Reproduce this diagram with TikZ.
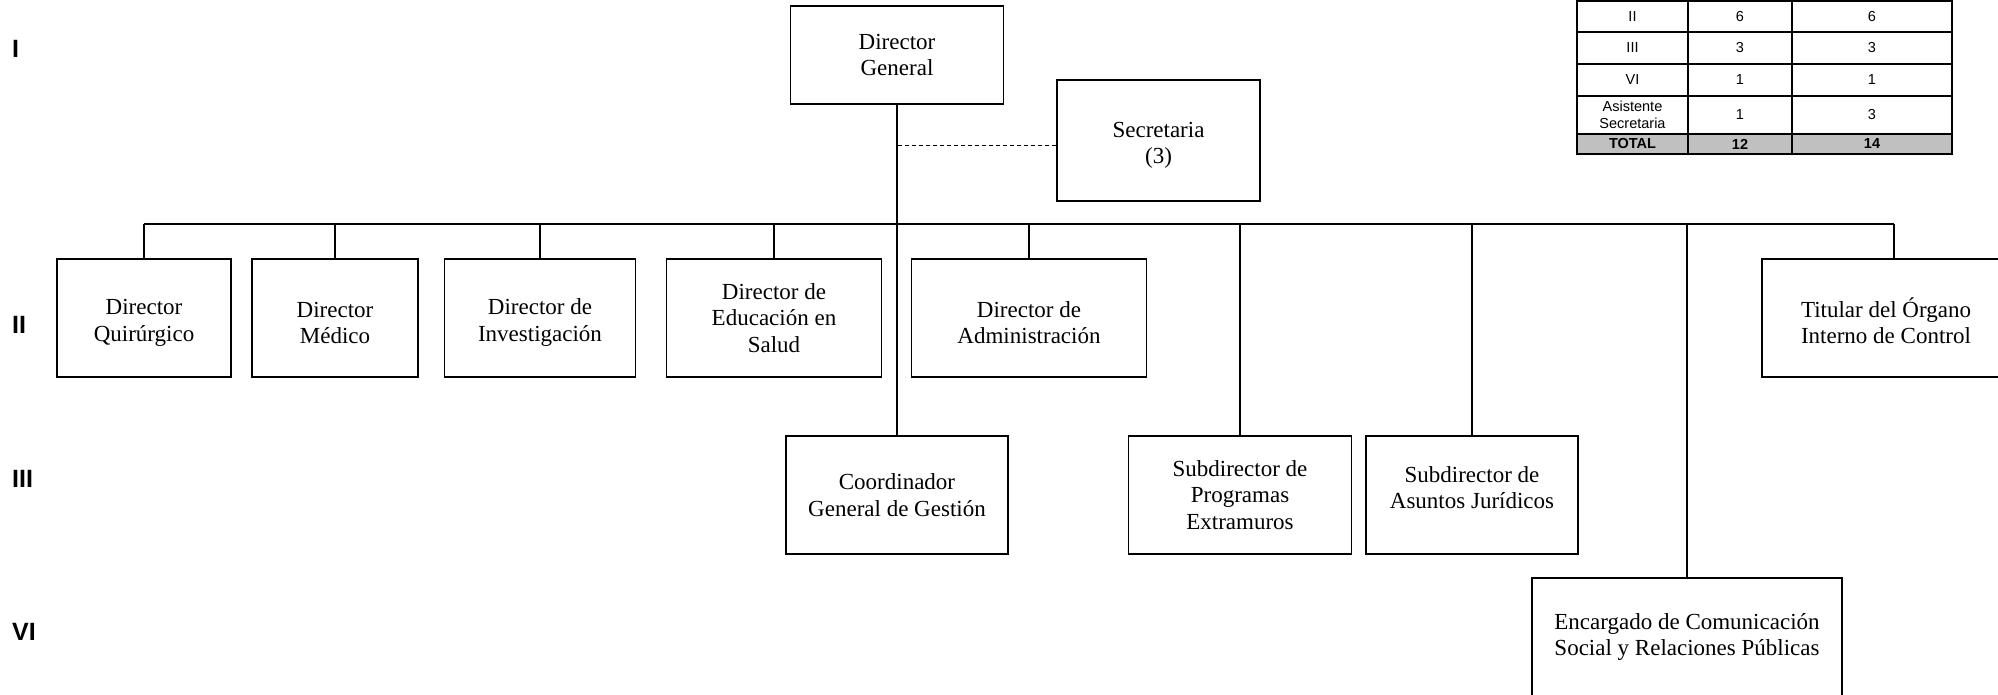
\documentclass[tikz,border=0pt]{standalone}
\usepackage{fontspec}
\setmainfont{Liberation Serif}
\newfontfamily\arialf{Liberation Sans}
\definecolor{tgray}{RGB}{192,192,192}
\newcommand{\txdown}{\rule{0pt}{25pt}}
\newcommand{\txup}{\rule[-15pt]{0pt}{15pt}}
\begin{document}
\begin{tikzpicture}[x=1pt,y=-1pt,
  box/.style={draw,line width=1.2pt,align=center,inner sep=0pt,
    font=\fontsize{23}{26.5}\selectfont,minimum height=118pt},
  lvl/.style={anchor=base west,inner sep=0pt,font=\arialf\bfseries\fontsize{25}{25}\selectfont},
  cell/.style={inner sep=0pt,align=center,font=\arialf\fontsize{14.5}{17}\selectfont},
  bcell/.style={cell,font=\arialf\bfseries\fontsize{14.5}{17}\selectfont},
  conn/.style={line width=1.2pt},
  dconn/.style={line width=1pt,dash pattern=on 4pt off 3pt},
  tline/.style={line width=2.5pt}]
\useasboundingbox (0,0) rectangle (1998,695);
\clip (0,0) rectangle (1998,695);

% level labels
\node[lvl] (l1) at (12,58) {I};
\node[lvl] (l2) at (12,333) {II};
\node[lvl] (l3) at (12,487) {III};
\node[lvl] (l6) at (12,640) {VI};

% boxes
\node[box,minimum width=213pt,minimum height=98pt] (dg) at (897,55) {Director\\General};
\node[box,minimum width=203pt,minimum height=121pt] (sec) at (1158.5,140.5) {\txdown Secretaria\\(3)};

\node[box,minimum width=174pt] (quir) at (144,318) {\txdown Director\\Quirúrgico};
\node[box,minimum width=166pt] (med) at (335,318) {\txdown Director\\Médico};
\node[box,minimum width=191pt] (inv) at (540,318) {\txdown Director de\\Investigación};
\node[box,minimum width=215pt] (edu) at (774,318) {Director de\\Educación en\\Salud};
\node[box,minimum width=235pt] (adm) at (1029,318) {\txdown Director de\\Administración};
\node[box,minimum width=248pt] (tit) at (1886,318) {\txdown Titular del Órgano\\Interno de Control};

\node[box,minimum width=222pt] (coord) at (897,495) {Coordinador\\General de Gestión};
\node[box,minimum width=223pt] (ext) at (1240,495) {Subdirector de\\Programas\\Extramuros};
\node[box,minimum width=212pt] (jur) at (1472,495) {Subdirector de\\Asuntos Jurídicos\txup};

\node[box,minimum width=310pt] (enc) at (1687,637) {Encargado de Comunicación\\Social y Relaciones Públicas};

% connectors
\coordinate (bus) at (0,224);
\draw[conn] (quir.north |- bus) -- ([xshift=8pt]tit.north |- bus);
\foreach \n in {quir,med,inv,edu,adm,ext,jur,enc}{
  \draw[conn] (\n.north) -- (\n.north |- bus);
}
\draw[conn] ([xshift=8pt]tit.north) -- ([xshift=8pt]tit.north |- bus);
\draw[conn] (dg.south) -- (coord.north);
\draw[dconn] ([yshift=-5.5pt]sec.west) -- ([yshift=-5.5pt]sec.west -| dg.south);

% table
\fill[tgray] (1577,134) rectangle (1952,154);
\draw[tline] (1577,1) rectangle (1952,154);
\foreach \yy in {32,64,96,134}{ \draw[tline] (1577,\yy) -- (1952,\yy); }
\foreach \xx in {1688,1792}{ \draw[tline] (\xx,1) -- (\xx,154); }

\node[cell] (t11) at (1632.5,16.5) {II};
\node[cell] (t12) at (1740,16.5) {6};
\node[cell] (t13) at (1872,16.5) {6};
\node[cell] (t21) at (1632.5,48) {III};
\node[cell] (t22) at (1740,48) {3};
\node[cell] (t23) at (1872,48) {3};
\node[cell] (t31) at (1632.5,80) {VI};
\node[cell] (t32) at (1740,80) {1};
\node[cell] (t33) at (1872,80) {1};
\node[cell] (t41) at (1632.5,115) {Asistente\\Secretaria};
\node[cell] (t42) at (1740,115) {1};
\node[cell] (t43) at (1872,115) {3};
\node[bcell] (t51) at (1632.5,144) {TOTAL};
\node[bcell] (t52) at (1740,144) {12};
\node[bcell] (t53) at (1872,144) {14};
\end{tikzpicture}
\end{document}
